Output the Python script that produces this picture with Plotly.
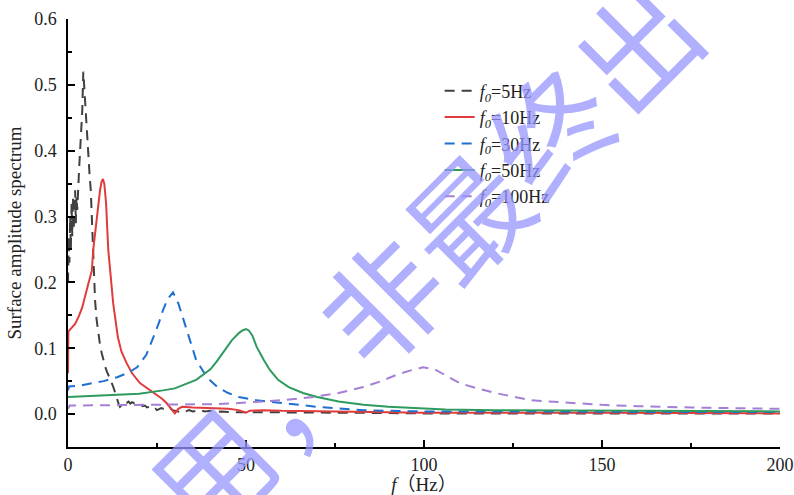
import plotly.graph_objects as go

# ---------------- data ----------------
f_5hz = [0, 0.2, 0.4, 0.6, 0.8, 1.0, 1.2, 1.4, 1.6, 1.8, 2.0, 2.2, 2.4, 2.6, 2.8,
         3.1, 3.4, 3.7, 4.0, 4.3, 4.6, 4.9, 5.2, 5.5, 5.8, 6.1, 6.4, 6.8, 7.1, 7.6,
         8.0, 8.5, 9.0, 9.5, 9.9, 10.4, 10.9, 11.3, 11.8, 12.3, 12.8, 13.2, 13.7,
         14.2, 14.6, 15.0, 15.5, 16.0, 16.5, 17.0, 17.5, 18.0, 18.4, 19.0, 19.4,
         20.0, 20.5, 21.0, 21.6, 22.2, 22.8, 23.4, 24.0, 24.6, 25.0, 25.6, 26.2,
         26.7, 27.3, 28.0, 28.7, 29.4, 30.0, 30.8, 31.5, 32.3, 33.0, 34.0, 35.0,
         36.0, 37.0, 38.5, 40.0, 41.5, 43.0, 45.0, 47.0, 50.0, 55, 60, 70, 80,
         100, 120, 150, 175, 200]
a_5hz = [0.20, 0.27, 0.23, 0.30, 0.25, 0.32, 0.27, 0.33, 0.28, 0.31, 0.34, 0.29,
         0.33, 0.31, 0.35, 0.37, 0.40, 0.43, 0.46, 0.52, 0.49, 0.47, 0.43, 0.41,
         0.38, 0.36, 0.34, 0.28, 0.223, 0.173, 0.145, 0.123, 0.105, 0.092, 0.082,
         0.073, 0.065, 0.060, 0.056, 0.047, 0.040, 0.032, 0.024, 0.016, 0.011,
         0.013, 0.016, 0.018, 0.017, 0.019, 0.016, 0.018, 0.017, 0.015, 0.016,
         0.013, 0.014, 0.012, 0.013, 0.010, 0.011, 0.008, 0.007, 0.008, 0.006,
         0.007, 0.009, 0.008, 0.009, 0.007, 0.009, 0.006, 0.005, 0.004, 0.003,
         0.005, 0.004, 0.006, 0.004, 0.005, 0.006, 0.004, 0.005, 0.003, 0.004,
         0.003, 0.003, 0.002, 0.002, 0.002, 0.002, 0.002, 0.001, 0.001, 0.001,
         0.001, 0.001]

f_10hz = [0, 0.1, 0.5, 1, 2, 3, 4, 5, 6, 6.7, 7.1, 7.6, 8.1, 8.6, 9.0, 9.4, 9.8,
          10.2, 10.7, 11.3, 11.8, 12.7, 14, 15, 16.5, 18, 20.2, 22, 25, 26.5,
          27.8, 29, 30, 31, 32, 35, 40, 45, 48, 50, 51, 55, 60, 70, 80, 100, 150,
          200]
a_10hz = [0.062, 0.125, 0.128, 0.131, 0.137, 0.148, 0.162, 0.183, 0.205, 0.218,
          0.25, 0.275, 0.30, 0.325, 0.34, 0.352, 0.357, 0.35, 0.32, 0.25, 0.218,
          0.168, 0.117, 0.095, 0.077, 0.062, 0.047, 0.040, 0.029, 0.023, 0.016,
          0.008, 0.001, 0.008, 0.011, 0.010, 0.009, 0.008, 0.006, 0.002, 0.005,
          0.006, 0.005, 0.004, 0.003, 0.002, 0.002, 0.001]

f_30hz = [0, 0.3, 3, 7, 10, 13.8, 17, 19.4, 22, 24, 25.5, 26.7, 28, 29.5, 31,
          33.4, 36, 39, 42, 45, 48, 53, 59, 65, 70, 77, 83, 90, 100, 120, 150,
          175, 200]
a_30hz = [0.036, 0.042, 0.043, 0.047, 0.050, 0.056, 0.063, 0.071, 0.090, 0.117,
          0.138, 0.158, 0.175, 0.185, 0.168, 0.127, 0.082, 0.056, 0.041, 0.032,
          0.026, 0.021, 0.017, 0.014, 0.011, 0.008, 0.006, 0.005, 0.004, 0.004,
          0.003, 0.003, 0.003]

f_50hz = [0, 5, 10, 17.5, 20, 26.7, 30, 36, 40, 41.8, 44, 46, 48, 49, 50,
          50.8, 51.8, 53, 55, 56.7, 59, 62, 66, 70, 76, 83, 90, 97, 106, 120,
          150, 175, 200]
a_50hz = [0.026, 0.027, 0.028, 0.030, 0.031, 0.036, 0.039, 0.052, 0.068, 0.080,
          0.097, 0.112, 0.123, 0.127, 0.129, 0.127, 0.119, 0.102, 0.082, 0.067,
          0.052, 0.041, 0.032, 0.026, 0.019, 0.014, 0.011, 0.009, 0.007, 0.006,
          0.005, 0.004, 0.004]

f_100hz = [0, 0.5, 10, 20, 30, 40, 45.5, 52, 60, 69, 76, 83, 88, 92, 96, 99.7,
           103, 105, 110, 115, 120, 130, 140, 150, 160, 175, 200]
a_100hz = [0.008, 0.013, 0.0135, 0.014, 0.014, 0.015, 0.016, 0.018, 0.021,
           0.026, 0.032, 0.041, 0.050, 0.059, 0.066, 0.071, 0.068, 0.062,
           0.047, 0.039, 0.032, 0.021, 0.017, 0.014, 0.012, 0.010, 0.008]

series_names = ["<i>f</i><sub><i>0</i></sub>=5Hz", "<i>f</i><sub><i>0</i></sub>=10Hz",
                "<i>f</i><sub><i>0</i></sub>=30Hz", "<i>f</i><sub><i>0</i></sub>=50Hz",
                "<i>f</i><sub><i>0</i></sub>=100Hz"]

watermark_chars = ["用", "，", "非", "最", "终", "出"]

# ---------------- styles ----------------
colors = ["#404040", "#e03c3c", "#1f6fd0", "#2e9a5e", "#a57fd6"]
dashes = ["10px,7px", "solid", "10px,7px", "solid", "10px,7px"]
xs = [f_5hz, f_10hz, f_30hz, f_50hz, f_100hz]
ys = [a_5hz, a_10hz, a_30hz, a_50hz, a_100hz]

fig = go.Figure()
for x, y, name, c, d in zip(xs, ys, series_names, colors, dashes):
    fig.add_trace(go.Scatter(x=x, y=y, mode="lines", name=name,
                             line=dict(color=c, width=2, dash=d)))

serif = "Liberation Serif, Times New Roman, Noto Sans CJK SC"

axis_common = dict(
    showline=True, linecolor="black", linewidth=1.5, mirror=False,
    ticks="inside", ticklen=7, tickwidth=1.5, tickcolor="black",
    showgrid=False, zeroline=False,
    tickfont=dict(family=serif, size=18, color="#222"),
)

fig.update_xaxes(range=[0, 200], tick0=0, dtick=50,
                 minor=dict(ticks="inside", ticklen=4, tickwidth=1.5,
                            tickcolor="black", dtick=25, showgrid=False),
                 title=dict(text="<i>f</i>（Hz）",
                            font=dict(family=serif, size=19, color="#222"),
                            standoff=8),
                 ticklabelstandoff=1,
                 **axis_common)
fig.update_yaxes(range=[-0.05, 0.6], tick0=0, dtick=0.1, tickformat=".1f",
                 minor=dict(ticks="inside", ticklen=4, tickwidth=1.5,
                            tickcolor="black", dtick=0.05, showgrid=False),
                 title=dict(text="Surface amplitude spectrum",
                            font=dict(family=serif, size=19, color="#222"),
                            standoff=8),
                 ticklabelstandoff=6,
                 **axis_common)

# watermark (decorative overlay text)
wm_pos = [(208, 468), (293, 383), (378, 298), (463, 213), (548, 128), (633, 43)]
for ch, (px, py) in zip(watermark_chars, wm_pos):
    fig.add_annotation(text=ch, xref="paper", yref="paper",
                       x=(px - 68) / 712, y=(447 - py) / 428,
                       xanchor="center", yanchor="middle", showarrow=False,
                       textangle=-45,
                       font=dict(family="Noto Sans CJK SC", size=118,
                                 color="rgba(150,150,255,0.75)"))

fig.update_layout(
    width=794, height=495,
    margin=dict(l=68, r=14, t=19, b=48, autoexpand=False),
    paper_bgcolor="white", plot_bgcolor="white",
    showlegend=True,
    legend=dict(x=0.522, y=0.875, xanchor="left", yanchor="top",
                bgcolor="rgba(0,0,0,0)",
                font=dict(family=serif, size=18, color="#222"),
                tracegroupgap=0),
)

fig.write_html("out.html")
